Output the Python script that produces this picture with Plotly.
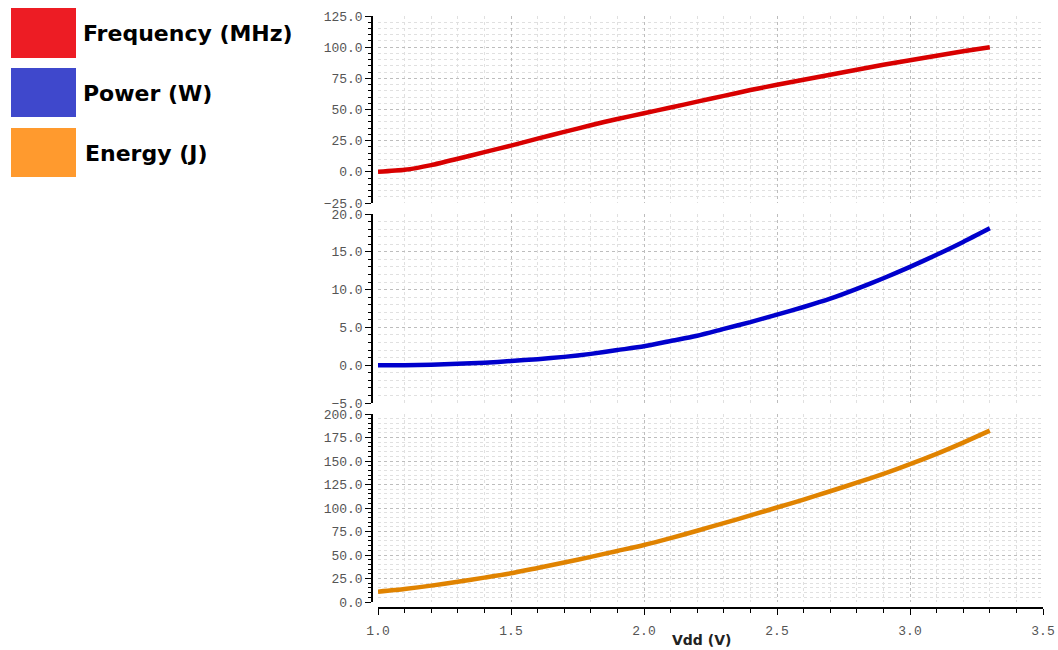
import plotly.graph_objects as go

# ---- data ----
vdd = [1.0, 1.1, 1.2, 1.3, 1.4, 1.5, 1.6, 1.7, 1.8, 1.9, 2.0, 2.1,
       2.2, 2.3, 2.4, 2.5, 2.6, 2.7, 2.8, 2.9, 3.0, 3.1, 3.2, 3.3]
frequency = [0.0, 1.6, 5.4, 10.5, 15.8, 21.0, 26.6, 32.0, 37.4, 42.4, 47.0, 51.6,
             56.3, 60.9, 65.6, 69.8, 73.9, 77.9, 81.9, 85.9, 89.5, 93.1, 96.7, 100.0]
power = [0.0, 0.0, 0.07, 0.2, 0.33, 0.55, 0.8, 1.1, 1.5, 2.0, 2.5, 3.2,
         3.9, 4.8, 5.7, 6.7, 7.7, 8.8, 10.1, 11.5, 13.0, 14.6, 16.3, 18.1]
energy = [11.0, 13.8, 17.4, 21.6, 25.9, 30.5, 36.2, 42.0, 48.0, 54.3, 60.6, 67.9,
          75.8, 83.9, 92.1, 100.5, 109.0, 117.8, 126.9, 136.4, 146.6, 157.6, 169.6, 182.3]

series_names = ["Frequency (MHz)", "Power (W)", "Energy (J)"]
line_colors = ["#d80000", "#0000cc", "#e08300"]
legend_colors = ["#ed1c24", "#3f48cc", "#ff9a2e"]
x_title = "Vdd (V)"

W, H = 1058, 650

def px_x(p):
    return p / W

def px_y(p):
    return 1 - p / H

x_dom = [px_x(378), px_x(1043)]
y_doms = [
    [px_y(203), px_y(16)],
    [px_y(403), px_y(214)],
    [px_y(602), px_y(414)],
]
y_ranges = [[-25, 125], [-5, 20], [0, 200]]
y_dticks = [25, 5, 25]
y_minor = [5, 1, 5]

tick_font = dict(family="Liberation Mono, Courier New, monospace", size=13, color="#555555")
major_grid = "#bdbdbd"
minor_grid = "#e0e0e0"

fig = go.Figure()
data = [frequency, power, energy]
for i in range(3):
    suffix = "" if i == 0 else str(i + 1)
    fig.add_trace(go.Scatter(
        x=vdd, y=data[i], mode="lines",
        line=dict(color=line_colors[i], width=4.5, shape="spline", smoothing=0.6),
        xaxis="x" + suffix, yaxis="y" + suffix, showlegend=False,
        name=series_names[i],
    ))

layout = dict(
    width=W, height=H,
    margin=dict(l=0, r=0, t=0, b=0),
    paper_bgcolor="white", plot_bgcolor="white",
    showlegend=False,
)

for i in range(3):
    suffix = "" if i == 0 else str(i + 1)
    is_bottom = (i == 2)
    xa = dict(
        domain=x_dom, range=[1.0, 3.5], dtick=0.5, tick0=1.0,
        showgrid=True, gridcolor=major_grid, griddash="dot", gridwidth=1,
        zeroline=False, automargin=False,
        minor=dict(dtick=0.1, showgrid=True, gridcolor=minor_grid, griddash="dot",
                   ticks="outside" if is_bottom else "", ticklen=4, tickcolor="black"),
        tickformat=".1f",
    )
    if is_bottom:
        xa.update(anchor="free", position=px_y(608), showline=True, linecolor="black",
                  linewidth=1.5, ticks="outside", ticklen=6, tickcolor="black",
                  showticklabels=True, tickfont=tick_font, ticklabelstandoff=5)
    else:
        xa.update(anchor="y" + suffix, showline=False, ticks="", showticklabels=False,
                  matches="x3")
    layout["xaxis" + suffix] = xa

    ya = dict(
        domain=y_doms[i], range=y_ranges[i], dtick=y_dticks[i], tick0=0,
        anchor="free", position=px_x(372),
        showline=True, linecolor="black", linewidth=1.5,
        ticks="outside", ticklen=6, tickcolor="black",
        tickformat=".1f", tickfont=tick_font,
        showgrid=True, gridcolor=major_grid, griddash="dot", gridwidth=1,
        zeroline=False, automargin=False,
        minor=dict(dtick=y_minor[i], showgrid=True, gridcolor=minor_grid, griddash="dot",
                   ticks="outside", ticklen=3, tickcolor="black"),
    )
    layout["yaxis" + suffix] = ya

fig.update_layout(**layout)

# legend-like boxes with labels
box_tops = [8, 68, 128]
box_bottoms = [58, 117, 177]
text_x = [81, 81, 83]
for i in range(3):
    fig.add_shape(type="rect", xref="paper", yref="paper",
                  x0=px_x(11), x1=px_x(76), y0=px_y(box_bottoms[i]), y1=px_y(box_tops[i]),
                  fillcolor=legend_colors[i], line=dict(width=0))
    fig.add_annotation(text="<b>" + series_names[i] + "</b>", xref="paper", yref="paper",
                       x=px_x(text_x[i]), y=px_y((box_tops[i] + box_bottoms[i]) / 2 + 1),
                       xanchor="left", yanchor="middle", showarrow=False,
                       font=dict(family="DejaVu Sans, Verdana, sans-serif", size=22, color="black"))

fig.add_annotation(text="<b>" + x_title + "</b>", xref="paper", yref="paper",
                   x=px_x(701), y=px_y(640), xanchor="center", yanchor="middle",
                   showarrow=False,
                   font=dict(family="DejaVu Sans, Verdana, sans-serif", size=14, color="#222222"))

fig.write_html("out.html")
